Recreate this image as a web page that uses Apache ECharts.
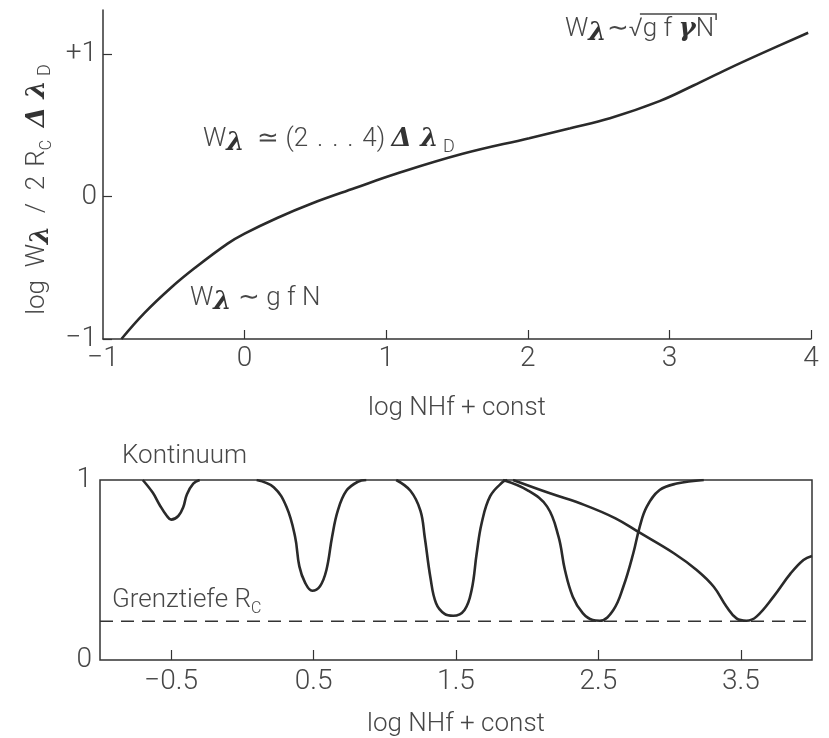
<!DOCTYPE html>
<html>
<head>
<meta charset="utf-8">
<script src="https://cdn.jsdelivr.net/npm/echarts@6/dist/echarts.min.js"></script>
</head>
<body style="margin:0;background:#fff;">
<div id="main" style="width:829px;height:738px;"></div>
<script>
// Wachstumskurve (oben)
var curveX = [-0.87, -0.71, -0.52, -0.35, -0.12, 0.0, 0.23, 0.47, 0.78, 1.07, 1.54, 2.01, 2.30, 2.58, 2.93, 3.17, 3.41, 3.64, 3.98];
var curveY = [-1.0, -0.82, -0.64, -0.50, -0.33, -0.26, -0.15, -0.05, 0.06, 0.16, 0.30, 0.41, 0.48, 0.55, 0.67, 0.78, 0.895, 1.0, 1.15];
var topXTicks = [0, 1, 2, 3, 4];
var topXLabels = [-1, 0, 1, 2, 3, 4];
var topYTicks = [-1, 0, 1];

// Linienprofile (unten)
var prof1X = [-0.70, -0.63, -0.58, -0.53, -0.50, -0.45, -0.415, -0.39, -0.345, -0.30];
var prof1Y = [1.0, 0.93, 0.86, 0.80, 0.78, 0.80, 0.85, 0.92, 0.98, 1.0];
var prof2X = [0.10, 0.22, 0.31, 0.37, 0.40, 0.44, 0.49, 0.545, 0.59, 0.63, 0.67, 0.73, 0.81, 0.87];
var prof2Y = [1.0, 0.96, 0.85, 0.685, 0.52, 0.43, 0.385, 0.41, 0.50, 0.685, 0.83, 0.94, 0.99, 1.0];
var prof3X = [1.08, 1.18, 1.25, 1.28, 1.32, 1.36, 1.42, 1.48, 1.56, 1.61, 1.645, 1.68, 1.74, 1.83, 1.86];
var prof3Y = [1.0, 0.94, 0.83, 0.685, 0.46, 0.315, 0.256, 0.246, 0.278, 0.39, 0.59, 0.76, 0.91, 0.99, 1.0];
var prof4X = [1.83, 2.0, 2.14, 2.22, 2.265, 2.32, 2.39, 2.46, 2.51, 2.605, 2.675, 2.745, 2.79, 2.84, 2.93, 3.05, 3.24];
var prof4Y = [1.0, 0.944, 0.852, 0.685, 0.50, 0.352, 0.26, 0.222, 0.218, 0.278, 0.407, 0.593, 0.74, 0.852, 0.944, 0.98, 1.0];
var prof5X = [1.90, 2.16, 2.40, 2.62, 2.79, 3.03, 3.19, 3.31, 3.40, 3.47, 3.54, 3.61, 3.73, 3.85, 3.94, 4.0];
var prof5Y = [1.0, 0.926, 0.862, 0.787, 0.707, 0.593, 0.50, 0.407, 0.296, 0.231, 0.218, 0.241, 0.352, 0.481, 0.556, 0.578];
var grenzTiefe = 0.215;
var bottomXTicks = [-0.5, 0.5, 1.5, 2.5, 3.5];
var bottomYTicks = [0, 1];

var FONT = 'Roboto';
var FS = 26;
var TXT = '#474747';
var INK = '#2a2a2a';
var SP = '\u2004';

function pairs(xs, ys) {
    var out = [];
    for (var i = 0; i < xs.length; i++) out.push([xs[i], ys[i]]);
    return out;
}
function minus(v) {
    return v < 0 ? '\u2212' + (-v) : String(v);
}

// Textbreite messen (fuer den Wurzelstrich)
var ctx = document.createElement('canvas').getContext('2d');
function tw(font, s) {
    ctx.font = font;
    return ctx.measureText(s).width;
}
var fLight = '300 ' + FS + 'px ' + FONT;
var fGreek = 'italic bold ' + FS + 'px "DejaVu Serif"';

// rich styles; c = Farbname (fill fuer graphic, color fuer Achsen)
function rich(c) {
    var r = {
        w: {fontSize: FS, fontFamily: FONT, fontWeight: 300, lineHeight: 34},
        l: {fontSize: FS, fontFamily: 'DejaVu Serif', fontWeight: 'bold', fontStyle: 'italic', lineHeight: 22, verticalAlign: 'bottom'},
        d: {fontSize: FS, fontFamily: 'DejaVu Serif', fontWeight: 'bold', fontStyle: 'italic', lineHeight: 34},
        s: {fontSize: 16, fontFamily: FONT, fontWeight: 300, lineHeight: 22, verticalAlign: 'bottom'},
        b: {fontSize: 18, fontFamily: FONT, fontWeight: 300, lineHeight: 28, verticalAlign: 'bottom'}
    };
    for (var k in r) r[k][c] = (k === 'l' || k === 'd') ? '#333' : TXT;
    return r;
}
var richG = rich('fill');
var richA = rich('color');

var lineStyle = {color: INK, width: 2.6};
var axisLbl = {fontSize: 28, fontFamily: FONT, fontWeight: 300, color: TXT};
var axisName = {fontSize: FS, fontFamily: FONT, fontWeight: 300, color: TXT};

// Position des Wurzelstrichs
var sqX = 565;
var sqStart = sqX + tw(fLight, 'W') + tw(fGreek, '\u03bb') + tw(fLight, '\u223c') + tw(fLight, '\u221a') * 0.8;
var sqEnd = sqX + tw(fLight, 'W') + tw(fGreek, '\u03bb') + tw(fLight, '\u223c\u221ag f ') + tw(fGreek, '\u03b3') + tw(fLight, 'N') + 2;

var myChart = echarts.init(document.getElementById('main'));
var option = {
    animation: false,
    backgroundColor: '#fff',
    grid: [
        {left: 103, right: 18, top: 10, height: 329},
        {left: 100, right: 17, top: 480, height: 180, show: true, borderColor: '#333', borderWidth: 1.5}
    ],
    xAxis: [
        {
            gridIndex: 0, type: 'value', min: -1, max: 4,
            axisLine: {onZero: false, lineStyle: {color: '#333', width: 1.5}},
            axisTick: {inside: true, length: 9, customValues: topXTicks, lineStyle: {color: '#333', width: 1.2}},
            axisLabel: Object.assign({customValues: topXLabels, margin: 6, formatter: minus}, axisLbl),
            splitLine: {show: false},
            name: 'log NHf + const', nameLocation: 'middle', nameGap: 56,
            nameTextStyle: axisName
        },
        {
            gridIndex: 1, type: 'value', min: -1, max: 4,
            axisLine: {show: false},
            axisTick: {inside: true, length: 10, customValues: bottomXTicks, lineStyle: {color: '#333', width: 1.2}},
            axisLabel: Object.assign({customValues: bottomXTicks, margin: 8, formatter: minus}, axisLbl),
            splitLine: {show: false},
            name: 'log NHf + const', nameLocation: 'middle', nameGap: 51,
            nameTextStyle: axisName
        }
    ],
    yAxis: [
        {
            gridIndex: 0, type: 'value', min: -1, max: 1.31,
            axisLine: {show: true, onZero: false, lineStyle: {color: '#333', width: 1.5}},
            axisTick: {inside: true, length: 9, customValues: topYTicks, lineStyle: {color: '#333', width: 1.2}},
            axisLabel: Object.assign({customValues: topYTicks, margin: 6, formatter: function (v) {
                return v > 0 ? '+' + v : minus(v);
            }}, axisLbl),
            splitLine: {show: false},
            name: '{w|log  W}{l|\u03bb}{w|  /  2' + SP + 'R}{s|C}{w|  }{d|\u0394' + SP + '\u03bb}{b| D}',
            nameLocation: 'middle', nameGap: 46, nameRotate: 90,
            nameTextStyle: {rich: richA, padding: [0, 30, 0, 0]}
        },
        {
            gridIndex: 1, type: 'value', min: 0, max: 1,
            axisLine: {show: false},
            axisTick: {show: false},
            axisLabel: Object.assign({customValues: bottomYTicks, margin: 8}, axisLbl),
            splitLine: {show: false}
        }
    ],
    series: [
        {type: 'line', xAxisIndex: 0, yAxisIndex: 0, data: pairs(curveX, curveY), smooth: 0.4, showSymbol: false, lineStyle: lineStyle},
        {type: 'line', xAxisIndex: 1, yAxisIndex: 1, data: pairs(prof1X, prof1Y), smooth: 0.4, showSymbol: false, lineStyle: lineStyle},
        {type: 'line', xAxisIndex: 1, yAxisIndex: 1, data: pairs(prof2X, prof2Y), smooth: 0.4, showSymbol: false, lineStyle: lineStyle},
        {type: 'line', xAxisIndex: 1, yAxisIndex: 1, data: pairs(prof3X, prof3Y), smooth: 0.4, showSymbol: false, lineStyle: lineStyle},
        {type: 'line', xAxisIndex: 1, yAxisIndex: 1, data: pairs(prof4X, prof4Y), smooth: 0.4, showSymbol: false, lineStyle: lineStyle},
        {type: 'line', xAxisIndex: 1, yAxisIndex: 1, data: pairs(prof5X, prof5Y), smooth: 0.4, showSymbol: false, lineStyle: lineStyle},
        {type: 'line', xAxisIndex: 1, yAxisIndex: 1, data: [[-1, grenzTiefe], [4, grenzTiefe]], showSymbol: false,
            lineStyle: {color: '#333', width: 1.6, type: [13, 8]}}
    ],
    graphic: [
        {type: 'text', left: 190, top: 285, style: {text: '{w|W}{l|\u03bb}{w| \u223c g f N}', rich: richG}},
        {type: 'text', left: 203, top: 126, style: {text: '{w|W}{l|\u03bb}{w|  \u2243 (2' + SP + '.' + SP + '.' + SP + '.' + SP + '4) }{d|\u0394' + SP + '\u03bb}{b| D}', rich: richG}},
        {type: 'text', left: sqX, top: 16, style: {text: '{w|W}{l|\u03bb}{w|\u223c\u221ag f }{d|\u03b3}{w|N}', rich: richG}},
        {type: 'polyline', shape: {points: [[sqStart, 14], [sqEnd, 14], [sqEnd, 20]]}, style: {stroke: TXT, lineWidth: 1.5, fill: null}},
        {type: 'text', left: 122, top: 443, style: {text: '{w|Kontinuum}', rich: richG}},
        {type: 'text', left: 112, top: 587, style: {text: '{w|Grenztiefe R}{s|C}', rich: richG}}
    ]
};
myChart.setOption(option);
</script>
</body>
</html>
